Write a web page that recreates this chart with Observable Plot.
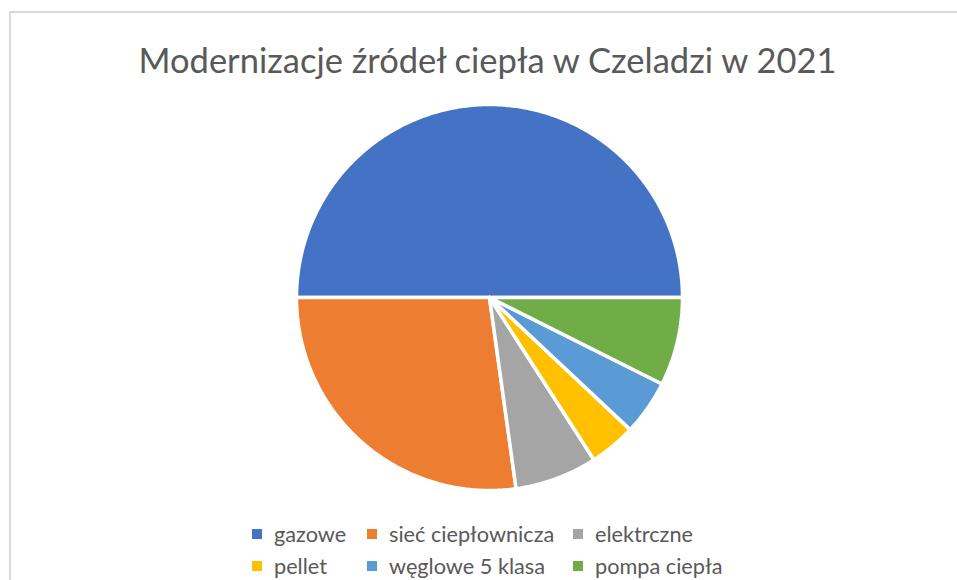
<!DOCTYPE html>
<html>
<head>
<meta charset="utf-8">
<script src="https://cdn.jsdelivr.net/npm/d3@7"></script>
<script src="https://cdn.jsdelivr.net/npm/@observablehq/plot@0.6"></script>
<style>
  html, body { margin: 0; padding: 0; background: #fff; }
  #chart { position: relative; width: 957px; height: 580px; overflow: hidden; background: #fff; font-family: Lato, "Open Sans", sans-serif; color: #595959; }
  #frame { position: absolute; left: 9px; top: 11px; width: 1200px; height: 1200px; border: 2px solid #d9d9d9; box-sizing: border-box; }
  #title { position: absolute; left: 0; width: 975px; top: 40px; text-align: center; font-size: 34.5px; line-height: 40px; white-space: nowrap; }
  #plot { position: absolute; left: 0; top: 97px; }
  #legend { position: absolute; left: 252px; top: 518px; display: grid; grid-template-columns: 115px 206px auto; grid-auto-rows: 32px; font-size: 21.7px; }
  .item { display: flex; align-items: center; white-space: nowrap; }
  .sw { width: 10px; height: 10px; margin-right: 12px; flex: none; }
</style>
</head>
<body>
<div id="chart">
  <div id="frame"></div>
  <div id="title">Modernizacje źródeł ciepła w Czeladzi w 2021</div>
  <div id="plot"></div>
  <div id="legend"></div>
</div>
<script>
const categories = ["gazowe", "sieć ciepłownicza", "elektrczne", "pellet", "węglowe 5 klasa", "pompa ciepła"];
const values = [50.0, 27.2, 6.9, 3.9, 4.6, 7.4];
const colors = ["#4472C4", "#ED7D31", "#A5A5A5", "#FFC000", "#5B9BD5", "#70AD47"];

const total = d3.sum(values);
const pts = [];
let a0 = 0;
categories.forEach((cat, i) => {
  const a1 = a0 + values[i] / total * 2 * Math.PI;
  const n = Math.max(2, Math.ceil((a1 - a0) / (Math.PI / 360)));
  pts.push({cat, x: 0, y: 0});
  for (let k = 0; k <= n; k++) {
    const t = a0 + (a1 - a0) * k / n;
    pts.push({cat, x: Math.cos(t), y: Math.sin(t)});
  }
  pts.push({cat, x: 0, y: 0});
  a0 = a1;
});

const plot = Plot.plot({
  width: 957,
  height: 400,
  marginLeft: 296,
  marginRight: 275,
  marginTop: 7,
  marginBottom: 7,
  x: {domain: [-1, 1], axis: null},
  y: {domain: [-1, 1], axis: null},
  color: {domain: categories, range: colors},
  marks: [
    Plot.line(pts, {x: "x", y: "y", z: "cat", fill: "cat", stroke: "white", strokeWidth: 3.5, strokeLinejoin: "miter", strokeMiterlimit: 1, curve: "linear"})
  ]
});
document.getElementById("plot").appendChild(plot);

const legend = document.getElementById("legend");
categories.forEach((cat, i) => {
  const item = document.createElement("div");
  item.className = "item";
  const sw = document.createElement("span");
  sw.className = "sw";
  sw.style.background = colors[i];
  const label = document.createElement("span");
  label.textContent = cat;
  item.appendChild(sw);
  item.appendChild(label);
  legend.appendChild(item);
});
</script>
</body>
</html>
